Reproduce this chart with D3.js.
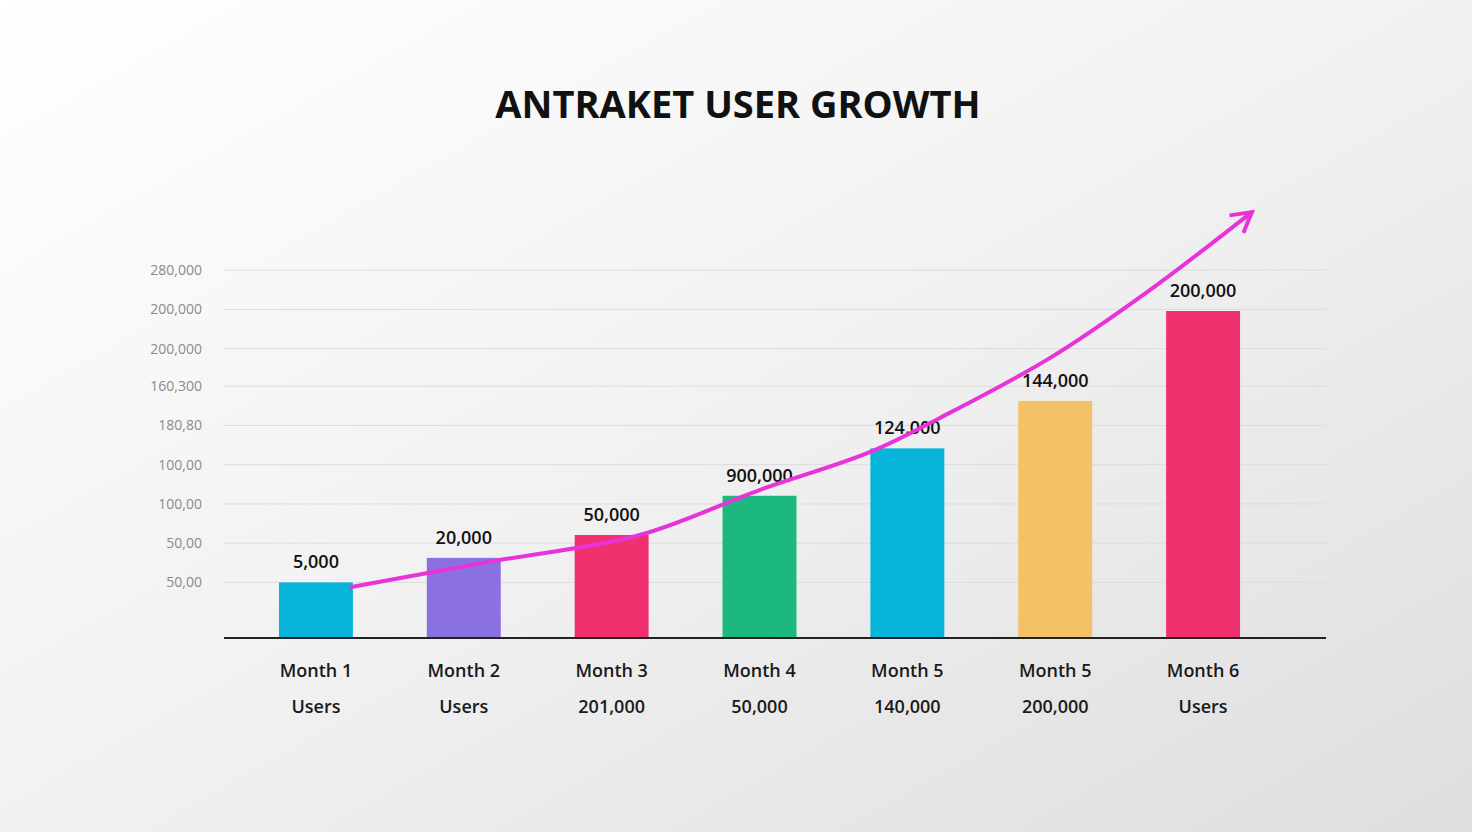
<!DOCTYPE html>
<html>
<head>
<meta charset="utf-8">
<script src="https://cdn.jsdelivr.net/npm/d3@7"></script>
<style>
  html, body { margin: 0; padding: 0; }
  body { width: 1472px; height: 832px; overflow: hidden; font-family: "Open Sans", "DejaVu Sans", sans-serif; }
</style>
</head>
<body>
<svg id="chart" width="1472" height="832"></svg>
<script>
// data ------------------------------------------------------------
var months = ['Month 1', 'Month 2', 'Month 3', 'Month 4', 'Month 5', 'Month 5', 'Month 6'];
var subLabels = ['Users', 'Users', '201,000', '50,000', '140,000', '200,000', 'Users'];
var users = [34000, 49000, 63000, 87000, 116000, 145000, 200000];
var valueLabels = ['5,000', '20,000', '50,000', '900,000', '124,000', '144,000', '200,000'];
var barColors = ['#06b4d9', '#8b70e2', '#f0316e', '#1cb87f', '#06b4d9', '#f4c166', '#f0316e'];
var gridValues = [34000, 58000, 82000, 106000, 130000, 154000, 177000, 201000, 225000];
var tickLabels = ['50,00', '50,00', '100,00', '100,00', '180,80', '160,300', '200,000', '200,000', '280,000'];
var trendIndex = [0.24, 1.2, 2.19, 3.0, 3.75, 4.22, 4.96, 5.64, 6.33];
var trendUsers = [31200, 47000, 63000, 90500, 113800, 134600, 171000, 212800, 260500];

var svg = d3.select('#chart');

// Background ------------------------------------------------------
var defs = svg.append('defs');
var grad = defs.append('linearGradient').attr('id', 'bg')
  .attr('x1', '0').attr('y1', '0').attr('x2', '1').attr('y2', '1');
grad.append('stop').attr('offset', '0').attr('stop-color', '#ffffff');
grad.append('stop').attr('offset', '0.5').attr('stop-color', '#f1f1f1');
grad.append('stop').attr('offset', '1').attr('stop-color', '#dedede');
svg.append('rect').attr('width', 1472).attr('height', 832).attr('fill', 'url(#bg)');

defs.append('marker').attr('id', 'arrow')
  .attr('viewBox', '0 0 10 10').attr('refX', 8).attr('refY', 5)
  .attr('markerWidth', 7).attr('markerHeight', 7).attr('orient', 'auto')
  .append('path').attr('d', 'M1,1 L8,5 L1,9')
  .attr('fill', 'none').attr('stroke', '#e733d9').attr('stroke-width', 1.4);

// Scales ----------------------------------------------------------
var x = d3.scaleBand().domain(d3.range(months.length))
  .range([242, 1277]).paddingInner(0.5).paddingOuter(0.25);
var y = d3.scaleLinear().domain([0, 200000]).range([638, 311]);
var xi = d3.scaleLinear().domain([0, 1]).range([x(0) + x.bandwidth() / 2, x(1) + x.bandwidth() / 2]);

// Title -----------------------------------------------------------
svg.append('text').attr('x', 738).attr('y', 118).attr('text-anchor', 'middle')
  .style('font-size', '38px').style('font-weight', 700).style('fill', '#111')
  .text('ANTRAKET USER GROWTH');

// Grid + y labels -------------------------------------------------
svg.selectAll('line.grid').data(gridValues).enter().append('line')
  .attr('class', 'grid')
  .attr('x1', 224).attr('x2', 1326)
  .attr('y1', function (d) { return y(d); }).attr('y2', function (d) { return y(d); })
  .attr('stroke', '#dcdcdc').attr('stroke-width', 1);

svg.selectAll('text.ytick').data(gridValues).enter().append('text')
  .attr('class', 'ytick')
  .attr('x', 202).attr('y', function (d) { return y(d) + 5; })
  .attr('text-anchor', 'end')
  .style('font-size', '14px').style('fill', '#8a8a8a')
  .text(function (d, i) { return tickLabels[i]; });

// Bars ------------------------------------------------------------
svg.selectAll('rect.bar').data(users).enter().append('rect')
  .attr('class', 'bar')
  .attr('x', function (d, i) { return x(i); })
  .attr('y', function (d) { return y(d); })
  .attr('width', x.bandwidth())
  .attr('height', function (d) { return y(0) - y(d); })
  .attr('fill', function (d, i) { return barColors[i]; });

svg.selectAll('text.val').data(users).enter().append('text')
  .attr('class', 'val')
  .attr('x', function (d, i) { return x(i) + x.bandwidth() / 2; })
  .attr('y', function (d) { return y(d) - 14; })
  .attr('text-anchor', 'middle')
  .style('font-size', '18px').style('font-weight', 600).style('fill', '#111')
  .text(function (d, i) { return valueLabels[i]; });

// Axis baseline ---------------------------------------------------
svg.append('line').attr('x1', 224).attr('x2', 1326).attr('y1', y(0)).attr('y2', y(0))
  .attr('stroke', '#222').attr('stroke-width', 2);

// X labels --------------------------------------------------------
svg.selectAll('text.month').data(months).enter().append('text')
  .attr('class', 'month')
  .attr('x', function (d, i) { return x(i) + x.bandwidth() / 2; })
  .attr('y', 677).attr('text-anchor', 'middle')
  .style('font-size', '18px').style('font-weight', 600).style('fill', '#1a1a1a')
  .text(function (d) { return d; });

svg.selectAll('text.sub').data(subLabels).enter().append('text')
  .attr('class', 'sub')
  .attr('x', function (d, i) { return x(i) + x.bandwidth() / 2; })
  .attr('y', 713).attr('text-anchor', 'middle')
  .style('font-size', '18px').style('font-weight', 600).style('fill', '#1a1a1a')
  .text(function (d) { return d; });

// Trend arrow -----------------------------------------------------
var line = d3.line()
  .x(function (d) { return xi(d[0]); })
  .y(function (d) { return y(d[1]); })
  .curve(d3.curveCatmullRom);

svg.append('path')
  .datum(d3.zip(trendIndex, trendUsers))
  .attr('d', line)
  .attr('fill', 'none').attr('stroke', '#e733d9').attr('stroke-width', 4)
  .attr('stroke-linecap', 'round')
  .attr('marker-end', 'url(#arrow)');
</script>
</body>
</html>
